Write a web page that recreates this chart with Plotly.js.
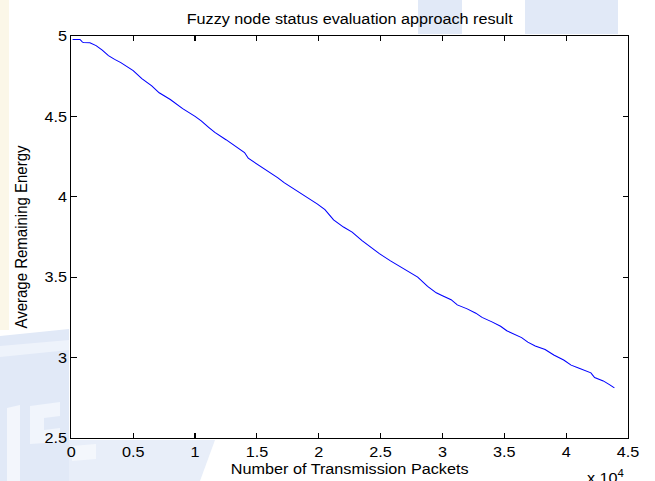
<!DOCTYPE html>
<html>
<head>
<meta charset="utf-8">
<script src="https://cdn.plot.ly/plotly-3.0.1.min.js"></script>
<style>
  html, body { margin: 0; padding: 0; background: #ffffff; overflow: hidden; }
  /* the figure is laid out slightly narrower and widened horizontally */
  #chart { width: 606px; height: 481px; transform: scaleX(1.0809); transform-origin: 0 0; }
</style>
</head>
<body>
<div id="chart"></div>
<script>
// Remaining energy vs. packets sent (fuzzy node status evaluation)
const packets = [100, 700, 900, 1000, 1500, 2000, 2500, 3000, 3500, 4000, 5000, 5700, 6500, 7100,
  8000, 8400, 9000, 10000, 10500, 11100, 11600, 12500, 13300, 14000, 14300, 15000, 15700, 16700,
  17200, 18000, 19000, 19900, 20500, 21200, 22000, 22700, 23500, 24900, 25800, 26500, 27200, 28000,
  28800, 29500, 30000, 30700, 31200, 32000, 32700, 33200, 34000, 34700, 35200, 36000, 36400, 36900,
  37500, 38300, 39000, 39800, 40400, 41000, 42000, 42300, 43000, 43500, 43900];
const energy = [4.978, 4.978, 4.962, 4.960, 4.958, 4.940, 4.912, 4.878, 4.855, 4.834, 4.785, 4.735,
  4.690, 4.647, 4.605, 4.580, 4.548, 4.500, 4.472, 4.432, 4.400, 4.355, 4.312, 4.275, 4.240, 4.205,
  4.168, 4.118, 4.088, 4.048, 4.003, 3.955, 3.920, 3.857, 3.812, 3.780, 3.728, 3.646, 3.602, 3.570,
  3.538, 3.500, 3.443, 3.403, 3.385, 3.360, 3.328, 3.303, 3.276, 3.250, 3.222, 3.195, 3.167, 3.140,
  3.124, 3.096, 3.072, 3.050, 3.016, 2.985, 2.953, 2.935, 2.905, 2.876, 2.855, 2.832, 2.812];

const xTickVals = [0, 5000, 10000, 15000, 20000, 25000, 30000, 35000, 40000, 45000];
const xTickText = ['0', '0.5', '1', '1.5', '2', '2.5', '3', '3.5', '4', '4.5'];
const yTickVals = [2.5, 3, 3.5, 4, 4.5, 5];
const yTickText = ['2.5', '3', '3.5', '4', '4.5', '5'];

const FONT = 'Arial, "Liberation Sans", Helvetica, sans-serif';
const FS = 15;

// figure geometry (unscaled px)
const W = 606, H = 481, SX = 1.0809;
const M = { l: 66, r: 25, t: 36, b: 43 };
const PW = W - M.l - M.r, PH = H - M.t - M.b;
// convert on-screen pixel positions to paper fractions (for background decoration)
const px = v => (v / SX - M.l) / PW;
const py = v => (H - M.b - v) / PH;

function poly(pts, color) {
  const d = 'M' + pts.map(p => px(p[0]).toFixed(4) + ',' + py(p[1]).toFixed(4)).join(' L') + ' Z';
  return { type: 'path', xref: 'paper', yref: 'paper', path: d, fillcolor: color,
    line: { width: 0 }, layer: 'below' };
}

// faint backdrop pattern around the axes
const PALE = '#e1e9f7';
const backdrop = [
  poly([[0, 0], [9, 0], [9, 330], [0, 330]], '#fbf7e8'),
  poly([[0, 336], [69, 329], [69, 481], [0, 481]], PALE),
  poly([[69, 440], [215, 440], [200, 481], [69, 481]], '#e8eef9'),
  poly([[0, 346], [69, 340], [69, 350], [0, 357]], '#eef3fb'),
  poly([[7, 408], [20, 405], [20, 481], [7, 481]], '#f3f6fc'),
  poly([[30, 406], [60, 402], [60, 416], [44, 418], [44, 430], [60, 428], [60, 442], [30, 444]], '#f1f5fc'),
  poly([[72, 446], [96, 444], [96, 459], [72, 461]], '#f4f7fc'),
  poly([[418, 0], [462, 0], [462, 34], [418, 34]], PALE),
  poly([[525, 0], [618, 0], [618, 34], [525, 34]], PALE)
];

const axisCommon = {
  showline: true, linecolor: '#000', linewidth: 1, mirror: 'ticks',
  ticks: 'inside', ticklen: 5, tickwidth: 1, tickcolor: '#000',
  showgrid: false, zeroline: false, fixedrange: true,
  tickfont: { family: FONT, size: FS, color: '#000' }
};

const trace = {
  x: packets, y: energy, type: 'scatter', mode: 'lines',
  line: { color: '#0000ff', width: 1 }, hoverinfo: 'skip'
};

const layout = {
  width: W, height: H,
  margin: M,
  paper_bgcolor: '#ffffff', plot_bgcolor: '#ffffff',
  showlegend: false,
  title: { text: 'Fuzzy node status evaluation approach result', font: { family: FONT, size: FS, color: '#000' },
    x: 0.5, xref: 'paper', y: 1 - 18.5 / H, yref: 'container', yanchor: 'middle' },
  xaxis: Object.assign({}, axisCommon, {
    range: [0, 45000], tickmode: 'array', tickvals: xTickVals, ticktext: xTickText,
    title: { text: 'Number of Transmission Packets', font: { family: FONT, size: FS, color: '#000' }, standoff: 2 }
  }),
  yaxis: Object.assign({}, axisCommon, {
    range: [2.5, 5], tickmode: 'array', tickvals: yTickVals, ticktext: yTickText,
    title: { text: 'Average Remaining Energy', font: { family: FONT, size: FS, color: '#000' }, standoff: 11 }
  }),
  shapes: backdrop,
  annotations: [{
    xref: 'paper', yref: 'paper', x: px(626), y: py(488), xanchor: 'right', yanchor: 'bottom',
    text: 'x 10<sup>4</sup>', showarrow: false, font: { family: FONT, size: FS, color: '#000' }
  }]
};

Plotly.newPlot('chart', [trace], layout, { staticPlot: true, displayModeBar: false });
</script>
</body>
</html>
